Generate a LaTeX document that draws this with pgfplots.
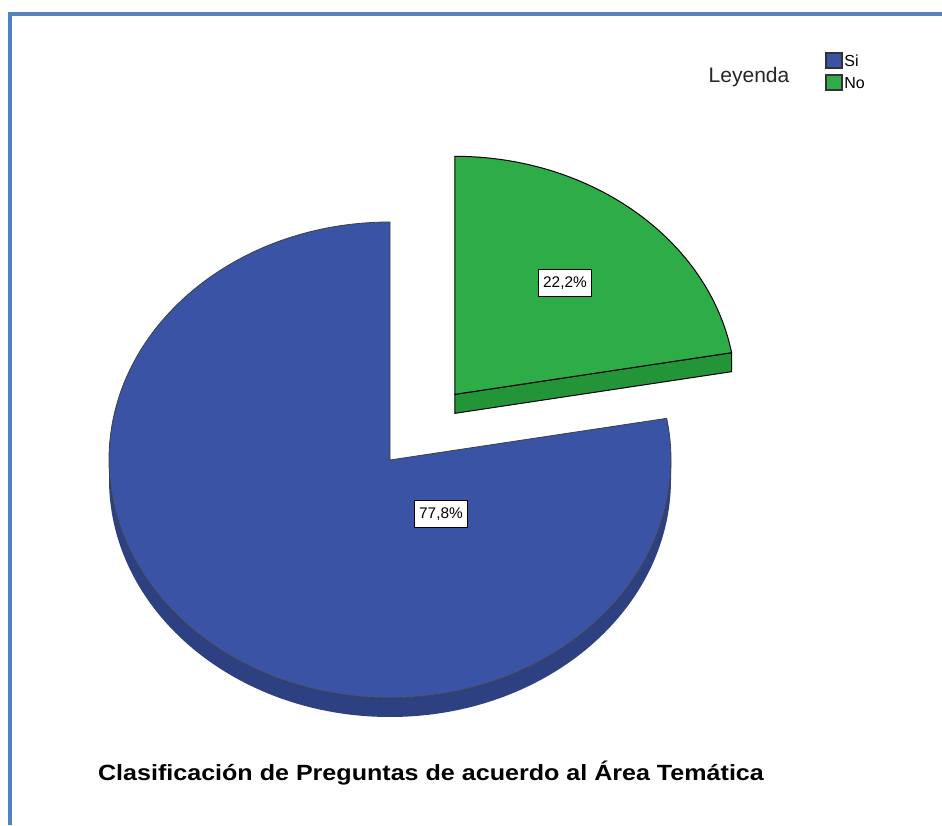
\documentclass[border=0pt]{standalone}
\usepackage{pgfplots}
\pgfplotsset{compat=1.18}
\usepackage{pgfplotstable}
\usepackage{fontspec}
\setmainfont{Liberation Sans}

\definecolor{siTop}{RGB}{58,83,164}
\definecolor{siSide}{RGB}{44,64,130}
\definecolor{noTop}{RGB}{46,172,72}
\definecolor{noSide}{RGB}{36,148,56}
\definecolor{frameBlue}{RGB}{84,130,192}

% percentages of the two categories
\pgfplotstableread{
cat value
Si  77.8
No  22.2
}\piedata

\begin{document}
\begin{tikzpicture}
\begin{axis}[
    hide axis, scale only axis, clip=false,
    width=471pt, height=412.5pt,
    xmin=0, xmax=942, ymin=0, ymax=825,
]
\pgfplotstablegetelem{0}{value}\of\piedata \let\vsi\pgfplotsretval
\pgfplotstablegetelem{1}{value}\of\piedata \let\vno\pgfplotsretval
\pgfmathsetmacro\aNo{90-3.6*\vno}   % end angle of the "No" slice
\pgfmathsetmacro\aSi{90+3.6*\vsi}   % end angle of the "Si" slice
\pgfmathsetmacro\aMid{90-1.8*\vno}
% pie geometry (picture units)
\def\cx{390}\def\cy{365}\def\rx{281}\def\ry{238}\def\dep{19}
\pgfmathsetmacro\ex{\cx+0.36*\rx*cos(\aMid)}
\pgfmathsetmacro\ey{\cy+0.36*\ry*sin(\aMid)}
\pgfmathsetmacro\rX{\ex+\rx*cos(\aNo)}
\pgfmathsetmacro\rY{\ey+\ry*sin(\aNo)}

% frame
\draw[frameBlue, line width=2pt] (axis cs:10,0) -- (axis cs:10,811) -- (axis cs:942,811);
\coordinate (SW) at (axis cs:0,0);
\coordinate (NE) at (axis cs:942,825);

% Si: side wall, then top
\fill[siSide] (axis cs:{\cx-\rx},\cy)
    arc[start angle=180, end angle=360, x radius=\rx, y radius=\ry]
    -- (axis cs:{\cx+\rx},{\cy-\dep})
    arc[start angle=360, end angle=180, x radius=\rx, y radius=\ry] -- cycle;
\filldraw[fill=siTop, draw=black!75, line width=0.4pt] (axis cs:\cx,\cy) -- (axis cs:\cx,{\cy+\ry})
    arc[start angle=90, end angle=\aSi, x radius=\rx, y radius=\ry] -- cycle;

% No: exploded slice, cut face, then top
\filldraw[fill=noSide, draw=black, line width=0.5pt] (axis cs:\ex,\ey) -- (axis cs:\rX,\rY)
    -- (axis cs:\rX,{\rY-\dep}) -- (axis cs:\ex,{\ey-\dep}) -- cycle;
\filldraw[fill=noTop, draw=black, line width=0.5pt] (axis cs:\ex,\ey) -- (axis cs:\ex,{\ey+\ry})
    arc[start angle=90, end angle=\aNo, x radius=\rx, y radius=\ry] -- cycle;

% value labels
\tikzset{vlab/.style={draw=black, fill=white, line width=0.5pt, inner xsep=2.5pt,
    minimum height=11.5pt, font=\fontsize{7.7}{8}\selectfont}}
\node[vlab] at (axis cs:441,311) {77,8\%};
\node[vlab] at (axis cs:565,542) {22,2\%};

% legend
\node[font=\fontsize{10.5}{12}\selectfont, text=black!85] at (axis cs:749,748) {Leyenda};
\filldraw[fill=siTop, draw=black!80, line width=0.6pt] (axis cs:826,772) rectangle (axis cs:842,757);
\filldraw[fill=noTop, draw=black!80, line width=0.6pt] (axis cs:826,750) rectangle (axis cs:842,735);
\node[anchor=west, inner sep=0pt, font=\fontsize{8}{9}\selectfont] at (axis cs:844,764) {Si};
\node[anchor=west, inner sep=0pt, font=\fontsize{8}{9}\selectfont] at (axis cs:844,742) {No};

% title
\node[font=\bfseries\fontsize{11}{12}\selectfont] at (axis cs:431,52)
    {\scalebox{1.14}[1]{Clasificación de Preguntas de acuerdo al Área Temática}};
\end{axis}
\pgfresetboundingbox
\path (SW) rectangle (NE);
\end{tikzpicture}
\end{document}
